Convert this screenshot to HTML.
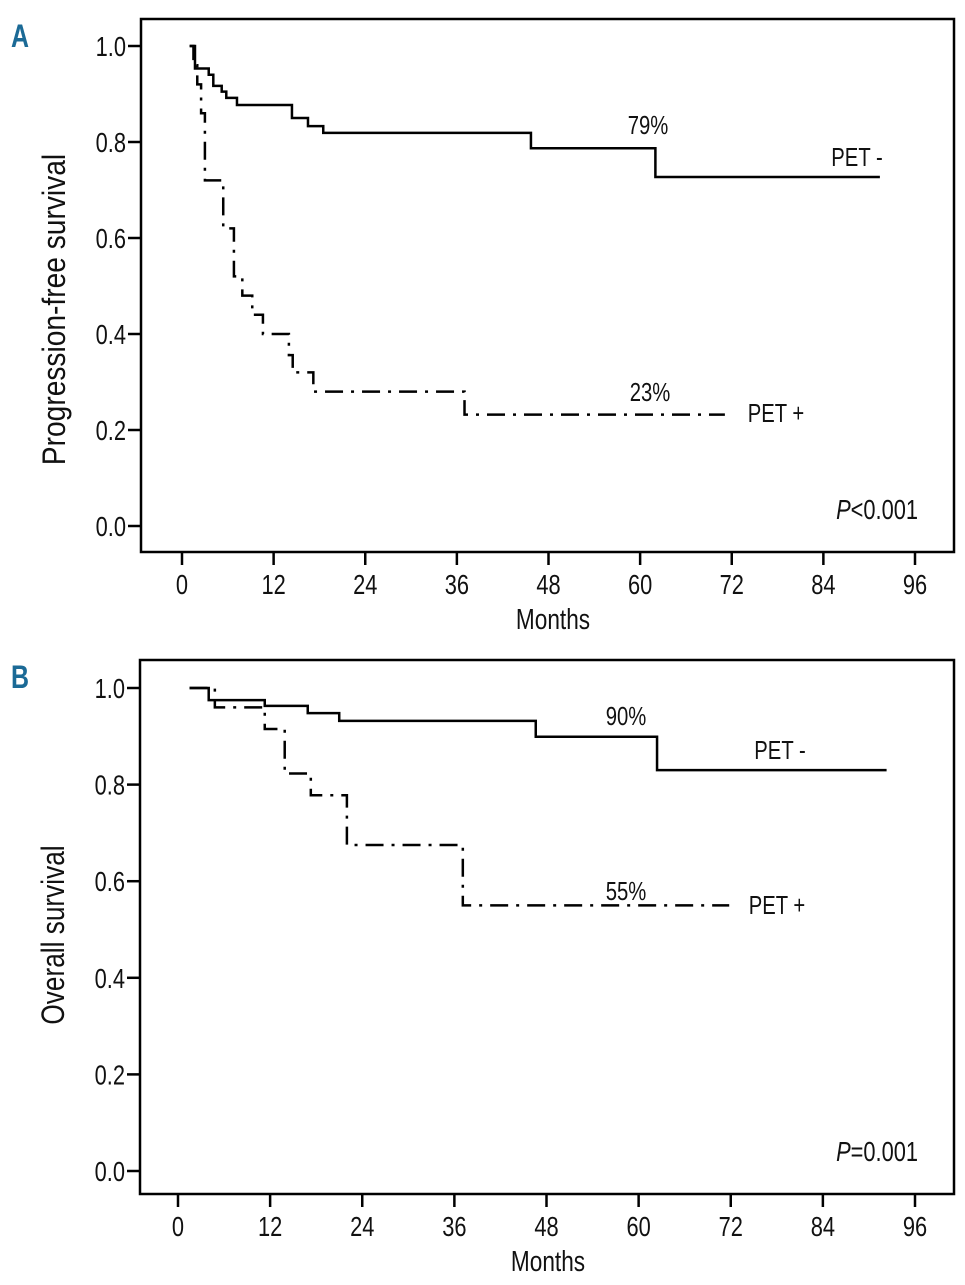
<!DOCTYPE html>
<html><head><meta charset="utf-8"><style>
body{margin:0;background:#fff}
svg text{font-family:"Liberation Sans",sans-serif;fill:#111}
</style></head><body>
<svg id="c" width="965" height="1280" viewBox="0 0 965 1280" xmlns="http://www.w3.org/2000/svg"></svg>
<script>
const xTicks=[0,12,24,36,48,60,72,84,96];
const yTicks=[0,0.2,0.4,0.6,0.8,1.0];
const pfsNegT=[1,1.7,3.5,4.1,5.2,5.8,7.2,14.4,16.5,18.5,45.7,62,91.4];
const pfsNegS=[1,0.953,0.94,0.917,0.905,0.892,0.877,0.85,0.833,0.819,0.787,0.727,0.727];
const pfsPosT=[1,1.5,2,2.5,3,5.4,6.8,7.9,9.2,10.6,14,14.5,17.2,37,71.1];
const pfsPosS=[1,0.96,0.92,0.86,0.72,0.62,0.52,0.48,0.44,0.40,0.356,0.32,0.28,0.232,0.232];
const osNegT=[1.5,4,11.3,16.9,21,46.6,62.4,92.3];
const osNegS=[1,0.975,0.963,0.948,0.932,0.899,0.83,0.83];
const osPosT=[1.5,4.8,11.3,13.9,17.3,22,37.1,71.8];
const osPosS=[1,0.96,0.915,0.823,0.778,0.675,0.55,0.55];
const NS="http://www.w3.org/2000/svg";
const svg=document.getElementById('c');
const SX=0.78;
function mk(tag,attrs,parent){const e=document.createElementNS(NS,tag);for(const k in attrs)e.setAttribute(k,attrs[k]);(parent||svg).appendChild(e);return e;}
function txt(s,x,y,size,anchor,parent,extra,rot,sx){
  const k=sx||SX;
  const tr=rot?`translate(${x},${y}) rotate(-90) scale(${k},1)`:`translate(${x},${y}) scale(${k},1)`;
  const e=mk('text',Object.assign({x:0,y:0,'font-size':size,'text-anchor':anchor||'middle',transform:tr},extra||{}),parent);e.textContent=s;return e;}
function panel(cfg){
  const g=mk('g',{});
  
  
  const xs=t=>cfg.x0+(cfg.x96-cfg.x0)*t/96;
  const ys=v=>cfg.y0+(cfg.y1-cfg.y0)*v;
  const box=mk('rect',{x:cfg.L,y:cfg.T,width:cfg.R-cfg.L,height:cfg.B-cfg.T,fill:'none',stroke:'#000','stroke-width':2.5},g);
  
  
  yTicks.forEach(v=>{
    const l=mk('line',{x1:cfg.L-13,x2:cfg.L,y1:ys(v),y2:ys(v),stroke:'#000','stroke-width':2.5},g);
    
    
    const t=txt(v.toFixed(1),cfg.L-15,ys(v)+10,28,'end',g);
    
    
  });
  xTicks.forEach(v=>{
    const l=mk('line',{x1:xs(v),x2:xs(v),y1:cfg.B,y2:cfg.B+13,stroke:'#000','stroke-width':2.5},g);
    
    
    const t=txt(String(v),xs(v),cfg.B+42,28,'middle',g);
    
    
  });
  const xt=txt('Months',cfg.mx,cfg.B+77,29,'middle',g);
  
  
  const yt=txt(cfg.ytitle,cfg.L-76,(cfg.T+cfg.B)/2+cfg.yOff,32,'middle',g,{},true,cfg.ysx);
  
  
  function step(T,S){let d=`M${xs(T[0])},${ys(S[0])}`;for(let i=1;i<T.length;i++){d+=` H${xs(T[i])} V${ys(S[i])}`;}return d;}
  const n=mk('path',{d:step(cfg.negT,cfg.negS),fill:'none',stroke:'#000','stroke-width':2.5},g);
  
  
  const p=mk('path',{d:step(cfg.posT,cfg.posS),fill:'none',stroke:'#000','stroke-width':2.5,'stroke-dasharray':'18,8,3,8'},g);
  
  
  cfg.labels.forEach(a=>{
    const t=txt(a[0],a[1],a[2],26,'middle',g);
    
    
  });
  const pv=mk('text',{x:0,y:0,'font-size':28,'text-anchor':'end',transform:`translate(${cfg.R-36},${cfg.B-33}) scale(${SX},1)`},g);
  
  
  pv.innerHTML=`<tspan font-style="italic">P</tspan>${cfg.p}`;
  const lt=txt(cfg.letter,cfg.letterX,cfg.letterY,32,'middle',g,{'font-weight':'bold',style:'fill:#1b6a96'});
  
  
}
panel({name:'panel-a-pfs',L:141,T:19,R:954,B:552,x0:182,x96:915,y0:526,y1:46,mx:553,yOff:24,ysx:0.88,ytitle:'Progression-free survival',
  negT:pfsNegT,negS:pfsNegS,posT:pfsPosT,posS:pfsPosS,p:'<0.001',letter:'A',letterX:20,letterY:47,
  labels:[['79%',648,134,'label-79'],['PET -',857,166,'label-pet-neg'],['23%',650,401,'label-23'],['PET +',776,422,'label-pet-pos']]});
panel({name:'panel-b-os',L:140,T:660,R:954,B:1194,x0:178,x96:915,y0:1171,y1:688,mx:548,yOff:8,ysx:0.82,ytitle:'Overall survival',
  negT:osNegT,negS:osNegS,posT:osPosT,posS:osPosS,p:'=0.001',letter:'B',letterX:20,letterY:688,
  labels:[['90%',626,725,'label-90'],['PET -',780,759,'label-pet-neg'],['55%',626,900,'label-55'],['PET +',777,914,'label-pet-pos']]});
</script>
</body></html>
